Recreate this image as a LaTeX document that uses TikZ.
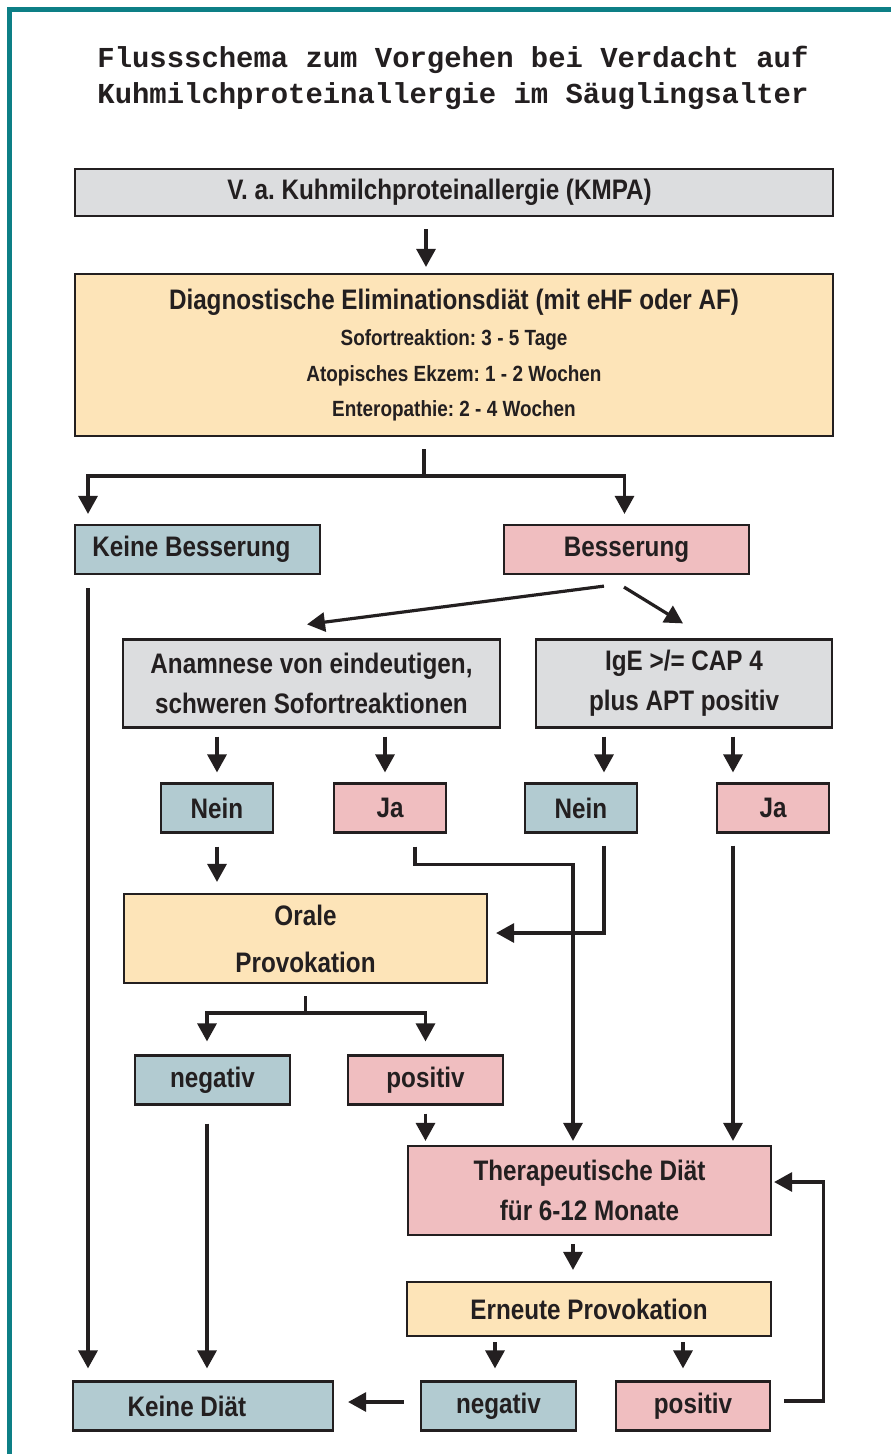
\documentclass[tikz,border=0pt]{standalone}
\usepackage{fontspec}
\setmainfont{Liberation Sans}
\newfontfamily\boxfont[FakeStretch=0.86]{Liberation Sans}
\newfontfamily\titlefont{Liberation Mono}
\usepackage[HTML]{xcolor}
\usepackage{tikz}
\usetikzlibrary{positioning, arrows.meta, calc}

\definecolor{inkc}{HTML}{231F20}
\definecolor{greyc}{HTML}{DCDDDF}
\definecolor{creamc}{HTML}{FDE4B8}
\definecolor{bluec}{HTML}{B2CBD1}
\definecolor{pinkc}{HTML}{F0BEC0}
\definecolor{framec}{HTML}{0D7F86}

\tikzset{
  box/.style={draw=inkc, line width=2.2pt, text=inkc, align=center, inner sep=0pt,
    font=\boxfont\fontsize{28.2}{40}\selectfont\bfseries\frenchspacing},
  greybox/.style={box, fill=greyc},
  creambox/.style={box, fill=creamc},
  bluebox/.style={box, fill=bluec},
  pinkbox/.style={box, fill=pinkc},
  ln/.style={draw=inkc, line width=3.2pt},
  arr/.style={ln, -{Triangle[width=19pt,length=18pt]}},
}

\begin{document}
\begin{tikzpicture}[x=1pt, y=-1pt]

\useasboundingbox (0,0) rectangle (891,1454);
\fill[white] (0,0) rectangle (891,1454);
\draw[framec, line width=5pt] (9.5,1454) -- (9.5,9.5) -- (891,9.5);

% title
\node[text=inkc, align=center, font=\titlefont\bfseries\fontsize{28.9}{36}\selectfont] (title) at (453,78)
  {Flussschema zum Vorgehen bei Verdacht auf\\Kuhmilchproteinallergie im Säuglingsalter};

% boxes
\node[greybox, minimum width=758, minimum height=47] (kmpa) at (454,192.5) {V. a. Kuhmilchproteinallergie (KMPA)\hspace*{29pt}};
\node[creambox, minimum width=758, minimum height=162, font=\boxfont\fontsize{22}{35.5}\selectfont\bfseries\frenchspacing] (elim) at (454,355)
  {{\fontsize{28.2}{35.5}\selectfont Diagnostische Eliminationsdiät (mit eHF oder AF)}\\[1pt]
   Sofortreaktion: 3 - 5 Tage\\Atopisches Ekzem: 1 - 2 Wochen\\Enteropathie: 2 - 4 Wochen};

\node[bluebox, minimum width=245, minimum height=49] (keinebes) at (197.5,549.5) {Keine Besserung\hspace*{12pt}};
\node[pinkbox, minimum width=245, minimum height=49] (bes) at (626.5,549.5) {Besserung};

\node[greybox, minimum width=377, minimum height=88] (anam) at (311.5,683.5) {Anamnese von eindeutigen,\\schweren Sofortreaktionen};
\node[greybox, minimum width=296, minimum height=88] (ige) at (684,683.5) {IgE >/= CAP 4\\plus APT positiv};

\node[bluebox, minimum width=112, minimum height=49] (nein1) at (217,808) {Nein};
\node[pinkbox, minimum width=112, minimum height=49] (ja1) at (390,808) {Ja};
\node[bluebox, minimum width=112, minimum height=49] (nein2) at (581,808) {Nein};
\node[pinkbox, minimum width=112, minimum height=49] (ja2) at (773,808) {Ja};

\node[creambox, minimum width=363, minimum height=89] (orale) at (305.5,938.5) {Orale\\[7pt]Provokation};

\node[bluebox, minimum width=155, minimum height=49] (neg1) at (212.5,1080) {negativ};
\node[pinkbox, minimum width=155, minimum height=49] (pos1) at (425.5,1080) {positiv};

\node[pinkbox, minimum width=363, minimum height=89] (thera) at (589.5,1190.5) {Therapeutische Diät\\für 6-12 Monate};
\node[creambox, minimum width=364, minimum height=54] (erneut) at (589,1309) {Erneute Provokation};

\node[bluebox, minimum width=155, minimum height=49] (neg2) at (498.5,1406) {negativ};
\node[pinkbox, minimum width=154, minimum height=49] (pos2) at (693,1406) {positiv};
\node[bluebox, minimum width=260, minimum height=49] (keinediat) at (203,1406) {Keine Diät\hspace*{32pt}};

% connectors
\coordinate (split1) at (424,476);
\coordinate (split2) at (305.5,1013);

\draw[arr, shorten <=12pt, shorten >=6pt] ([xshift=-28pt]kmpa.south) -- ([xshift=-28pt]elim.north);
\draw[ln, shorten <=12pt] ([xshift=-30pt]elim.south) -- (split1);
\draw[arr, shorten >=10pt] (split1) -| ([xshift=-109.5pt]keinebes.north);
\draw[arr, shorten >=10pt] (split1) -| ([xshift=-2pt]bes.north);

\draw[arr, shorten <=13pt, shorten >=12pt] ([xshift=-109.5pt]keinebes.south) -- ([xshift=-109.5pt]keinebes.south |- keinediat.north);

\draw[arr] ([xshift=-22.5pt,yshift=-11pt]bes.south) -- ([xshift=-4.5pt,yshift=14pt]anam.north);
\draw[arr] ([xshift=-2.5pt,yshift=-12pt]bes.south) -- ([xshift=-1pt,yshift=15pt]ige.north);

\draw[arr, shorten <=8pt, shorten >=10pt] (anam.south -| nein1.north) -- (nein1.north);
\draw[arr, shorten <=8pt, shorten >=10pt] ([xshift=-5pt]ja1.north |- anam.south) -- ([xshift=-5pt]ja1.north);
\draw[arr, shorten <=8pt, shorten >=10pt] ([xshift=23pt]nein2.north |- ige.south) -- ([xshift=23pt]nein2.north);
\draw[arr, shorten <=8pt, shorten >=10pt] ([xshift=-40pt]ja2.north |- ige.south) -- ([xshift=-40pt]ja2.north);

\draw[arr, shorten <=13pt, shorten >=11pt] (nein1.south) -- (nein1.south |- orale.north);
\draw[arr, shorten >=4pt] ([xshift=25pt,yshift=-13pt]ja1.south) -- ++(0,18) -| ([xshift=-16.5pt]thera.north);
\draw[arr] ([xshift=23pt,yshift=-12pt]nein2.south) |- ([xshift=8pt,yshift=5.5pt]orale.east);
\draw[arr, shorten <=12pt, shorten >=4pt] ([xshift=-40pt]ja2.south) -- ([xshift=-40pt]ja2.south |- thera.north);

\draw[ln, shorten <=12pt] (orale.south) -- (split2);
\draw[arr, shorten >=13pt] (split2) -| ([xshift=-5.5pt]neg1.north);
\draw[arr, shorten >=13pt] (split2) -| (pos1.north);

\draw[arr, shorten <=18pt, shorten >=12pt] ([xshift=-5.5pt]neg1.south) -- ([xshift=-5.5pt]neg1.south |- keinediat.north);
\draw[arr, shorten <=8pt, shorten >=4pt] (pos1.south) -- (pos1.south |- thera.north);

\draw[arr, shorten <=8pt, shorten >=11pt] ([xshift=-16.5pt]thera.south) -- ([xshift=-16.5pt]thera.south |- erneut.north);
\draw[arr, shorten <=5pt, shorten >=12pt] ([xshift=-3.5pt]neg2.north |- erneut.south) -- ([xshift=-3.5pt]neg2.north);
\draw[arr, shorten <=5pt, shorten >=12pt] ([xshift=-10pt]pos2.north |- erneut.south) -- ([xshift=-10pt]pos2.north);

\draw[arr, shorten <=16pt, shorten >=14pt] ([yshift=4pt]neg2.west) -- ([yshift=4pt]keinediat.east);
\draw[arr, shorten <=13pt, shorten >=2pt] ([yshift=5pt]pos2.east) -- ++(52,0) |- ([yshift=8.5pt]thera.east);

\end{tikzpicture}
\end{document}
